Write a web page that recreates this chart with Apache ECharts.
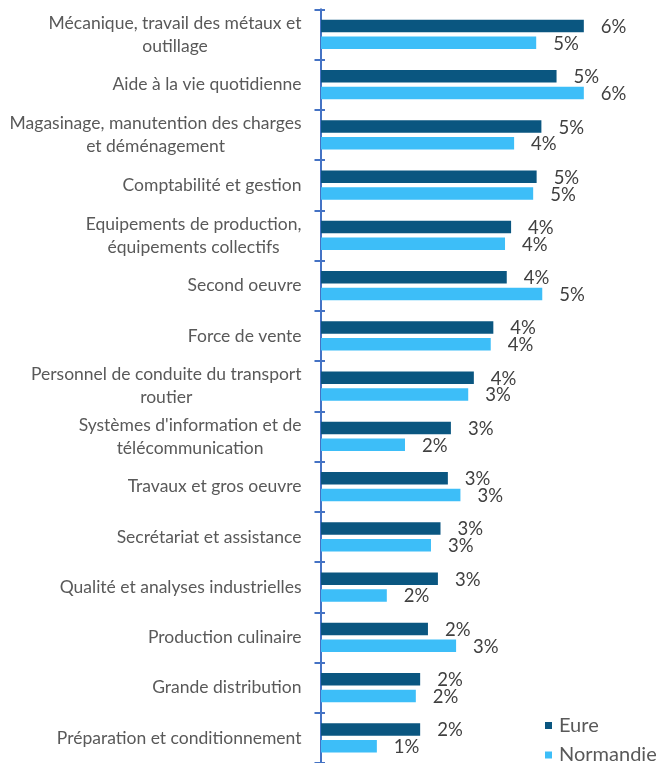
<!DOCTYPE html>
<html>
<head>
<meta charset="utf-8">
<script src="https://cdn.jsdelivr.net/npm/echarts@6/dist/echarts.min.js"></script>
<style>
  html, body { margin: 0; padding: 0; background: #ffffff; }
  #chart { width: 657px; height: 763px; }
</style>
</head>
<body>
<div id="chart"></div>
<script>
// Job families (wrapped as displayed)
const categories = [
  "Mécanique, travail des métaux et\noutillage",
  "Aide à la vie quotidienne",
  "Magasinage, manutention des charges\net déménagement",
  "Comptabilité et gestion",
  "Equipements de production,\néquipements collectifs",
  "Second oeuvre",
  "Force de vente",
  "Personnel de conduite du transport\nroutier",
  "Systèmes d'information et de\ntélécommunication",
  "Travaux et gros oeuvre",
  "Secrétariat et assistance",
  "Qualité et analyses industrielles",
  "Production culinaire",
  "Grande distribution",
  "Préparation et conditionnement"
];

// Share of offers, in percent
const eure = [6.07, 5.44, 5.09, 4.98, 4.39, 4.29, 3.98, 3.53, 3.00, 2.93, 2.76, 2.70, 2.47, 2.29, 2.29];
const normandie = [4.97, 6.07, 4.46, 4.90, 4.25, 5.11, 3.92, 3.40, 1.94, 3.22, 2.54, 1.52, 3.12, 2.19, 1.29];

const seriesNames = ["Eure", "Normandie"];
const colors = ["#0a5680", "#3dbef8"];

const FONT = "Lato";
const chart = echarts.init(document.getElementById('chart'), null, { renderer: 'canvas' });

const labelStyle = {
  show: true,
  position: 'right',
  distance: 17,
  offset: [0, 1],
  color: '#404040',
  fontFamily: FONT,
  fontSize: 18.5,
  formatter: p => Math.round(p.value) + '%'
};

const catLabelText = {
  fontFamily: FONT,
  fontSize: 17.5,
  lineHeight: 23,
  color: '#595959',
  align: 'center'
};

const option = {
  animation: false,
  backgroundColor: '#ffffff',
  grid: { left: 321, top: 9.3, width: 303.1, height: 755.25, containLabel: false },
  xAxis: {
    type: 'value',
    min: 0,
    max: 7,
    show: false
  },
  yAxis: [
    {
      type: 'category',
      data: categories,
      inverse: true,
      offset: 1.5,
      axisLine: { show: true, lineStyle: { color: '#4472c4', width: 2 } },
      axisTick: { show: true, length: 6.5, lineStyle: { color: '#4472c4', width: 2 } },
      axisLabel: {
        margin: 18,
        fontFamily: FONT,
        fontSize: 17.5,
        lineHeight: 23,
        color: '#595959',
        formatter: v => v.split('\n').map(l => '{c|' + l + '}').join('\n'),
        rich: { c: catLabelText }
      },
      splitLine: { show: false }
    },
    {
      type: 'category',
      data: categories,
      inverse: true,
      position: 'left',
      offset: 1.5,
      axisLine: { show: false },
      axisTick: { show: true, inside: true, length: 5.5, lineStyle: { color: '#4472c4', width: 2 } },
      axisLabel: { show: false },
      splitLine: { show: false }
    }
  ],
  legend: {
    orient: 'vertical',
    left: 545,
    top: 715.5,
    height: 80,
    padding: 0,
    itemWidth: 7,
    itemHeight: 7,
    itemGap: 9.5,
    icon: 'rect',
    textStyle: {
      fontFamily: FONT,
      fontSize: 20,
      lineHeight: 20,
      color: '#595959',
      padding: [0, 0, 0, 2]
    },
    data: seriesNames
  },
  series: [
    {
      name: seriesNames[0],
      type: 'bar',
      yAxisIndex: 0,
      data: eure,
      barWidth: 12.5,
      barGap: '34%',
      itemStyle: { color: colors[0] },
      label: labelStyle
    },
    {
      name: seriesNames[1],
      type: 'bar',
      yAxisIndex: 0,
      data: normandie,
      barWidth: 12.5,
      barGap: '34%',
      itemStyle: { color: colors[1] },
      label: labelStyle
    }
  ]
};

chart.setOption(option);
</script>
</body>
</html>
